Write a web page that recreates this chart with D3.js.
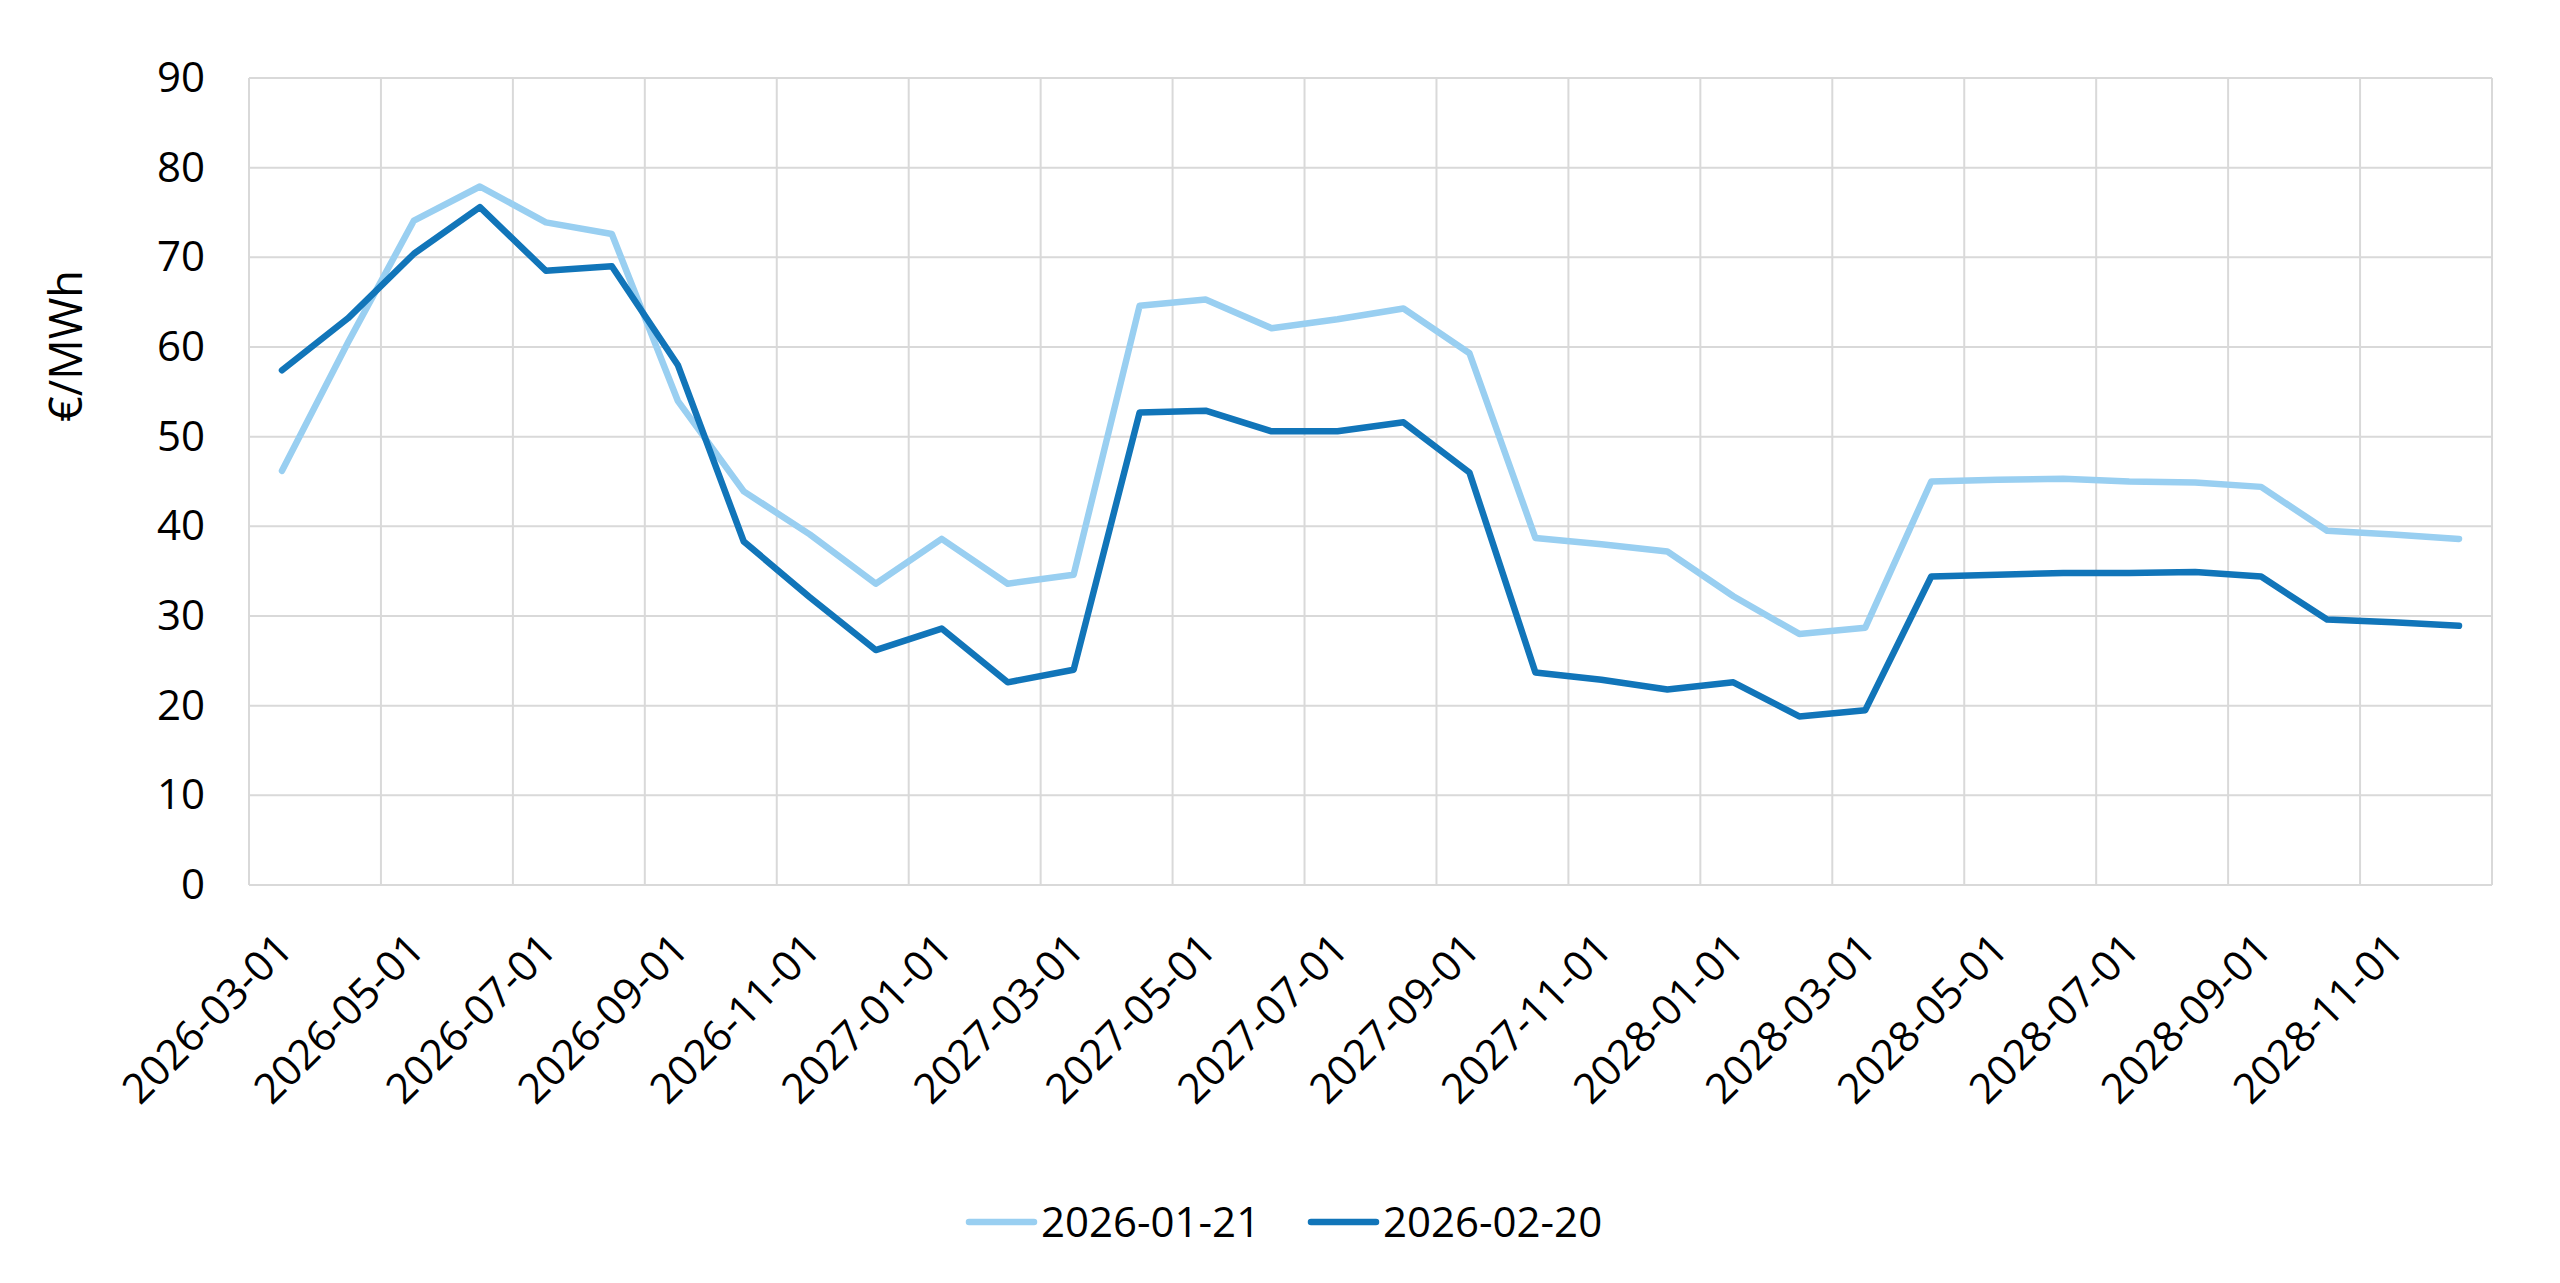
<!DOCTYPE html>
<html>
<head>
<meta charset="utf-8">
<script src="https://cdn.jsdelivr.net/npm/d3@7"></script>
<style>
  html, body { margin: 0; padding: 0; background: #fff; }
  svg { display: block; font-family: "Open Sans", "Noto Sans", sans-serif; }
</style>
</head>
<body>
<svg id="chart" width="2560" height="1283"></svg>
<script>
// ---- data ----
const categories = [
  "2026-03-01","2026-04-01","2026-05-01","2026-06-01","2026-07-01","2026-08-01",
  "2026-09-01","2026-10-01","2026-11-01","2026-12-01","2027-01-01","2027-02-01",
  "2027-03-01","2027-04-01","2027-05-01","2027-06-01","2027-07-01","2027-08-01",
  "2027-09-01","2027-10-01","2027-11-01","2027-12-01","2028-01-01","2028-02-01",
  "2028-03-01","2028-04-01","2028-05-01","2028-06-01","2028-07-01","2028-08-01",
  "2028-09-01","2028-10-01","2028-11-01","2028-12-01"
];
const series1Name = "2026-01-21";
const series1 = [
  46.2, 60.5, 74.1, 77.9, 73.9, 72.6, 54.0, 43.9, 39.1, 33.6, 38.6, 33.6,
  34.6, 64.6, 65.3, 62.1, 63.1, 64.3, 59.3, 38.7, 38.0, 37.2, 32.2, 28.0,
  28.7, 45.0, 45.2, 45.3, 45.0, 44.9, 44.4, 39.5, 39.1, 38.6
];
const series2Name = "2026-02-20";
const series2 = [
  57.4, 63.2, 70.4, 75.6, 68.5, 69.0, 58.0, 38.3, 32.1, 26.2, 28.6, 22.6,
  24.0, 52.7, 52.9, 50.6, 50.6, 51.6, 46.0, 23.7, 22.9, 21.8, 22.6, 18.8,
  19.5, 34.4, 34.6, 34.8, 34.8, 34.9, 34.4, 29.6, 29.3, 28.9
];
const yTicks = [0, 10, 20, 30, 40, 50, 60, 70, 80, 90];
const yTitle = "€/MWh";

(function () {
  // ---- layout ----
  const svg = d3.select("#chart");
  const pL = 249, pR = 2492, pT = 78, pB = 885;
  const colors = { s1: "#99cff1", s2: "#1175b9" };
  const gridColor = "#d9d9d9";
  const fontSize = 42;
  const ff = '"Open Sans", "Noto Sans", sans-serif';

  const xBand = d3.scaleBand().domain(categories).range([pL, pR]).paddingInner(0).paddingOuter(0);
  const xc = d => xBand(d) + xBand.bandwidth() / 2;
  const y = d3.scaleLinear().domain([0, 90]).range([pB, pT]);

  // horizontal grid
  svg.append("g").selectAll("line").data(yTicks).join("line")
    .attr("x1", pL).attr("x2", pR)
    .attr("y1", d => y(d)).attr("y2", d => y(d))
    .attr("stroke", gridColor).attr("stroke-width", 2);

  // vertical grid (every 2 categories, plus edges)
  const vLines = categories.filter((c, i) => i % 2 === 0).map(c => xBand(c)).concat([pR]);
  svg.append("g").selectAll("line").data(vLines).join("line")
    .attr("x1", d => d).attr("x2", d => d)
    .attr("y1", pT).attr("y2", pB)
    .attr("stroke", gridColor).attr("stroke-width", 2);

  // y axis labels
  const yAxis = d3.axisLeft(y).tickValues(yTicks).tickSize(0).tickPadding(44);
  const gy = svg.append("g").attr("transform", `translate(${pL},0)`).call(yAxis);
  gy.select(".domain").remove();
  gy.selectAll("text").attr("font-size", fontSize).attr("fill", "#000").attr("font-family", ff);

  // x axis labels
  const tickCats = categories.filter((c, i) => i % 2 === 0);
  const xPoint = d3.scalePoint().domain(categories)
    .range([xc(categories[0]), xc(categories[categories.length - 1])]);
  const xAxis = d3.axisBottom(xPoint).tickValues(tickCats).tickSize(0).tickPadding(0);
  const gx = svg.append("g").attr("transform", `translate(0,${pB})`).call(xAxis);
  gx.select(".domain").remove();
  gx.selectAll("text")
    .attr("font-size", fontSize).attr("fill", "#000").attr("font-family", ff)
    .attr("text-anchor", "end")
    .attr("y", 0).attr("dy", "0.35em")
    .attr("transform", "translate(2,56) rotate(-45)");

  // y title
  svg.append("text")
    .attr("transform", "translate(66,346) rotate(-90)")
    .attr("text-anchor", "middle").attr("dy", "0.35em")
    .attr("font-size", 45).attr("fill", "#000").attr("font-family", ff)
    .text(yTitle);

  // lines
  const line = d3.line().x((d, i) => xc(categories[i])).y(d => y(d));
  svg.append("path").datum(series1).attr("d", line)
    .attr("fill", "none").attr("stroke", colors.s1).attr("stroke-width", 6.5)
    .attr("stroke-linejoin", "round").attr("stroke-linecap", "round");
  svg.append("path").datum(series2).attr("d", line)
    .attr("fill", "none").attr("stroke", colors.s2).attr("stroke-width", 6.5)
    .attr("stroke-linejoin", "round").attr("stroke-linecap", "round");

  // legend
  const legendItems = [
    { name: series1Name, color: colors.s1, x: 966 },
    { name: series2Name, color: colors.s2, x: 1308 }
  ];
  const lg = svg.append("g");
  legendItems.forEach(it => {
    lg.append("line").attr("x1", it.x + 3).attr("x2", it.x + 68)
      .attr("y1", 1222).attr("y2", 1222)
      .attr("stroke", it.color).attr("stroke-width", 6.5).attr("stroke-linecap", "round");
    lg.append("text").attr("x", it.x + 75).attr("y", 1222).attr("dy", "0.35em")
      .attr("font-size", fontSize).attr("fill", "#000").attr("font-family", ff).text(it.name);
  });
})();
</script>
</body>
</html>
